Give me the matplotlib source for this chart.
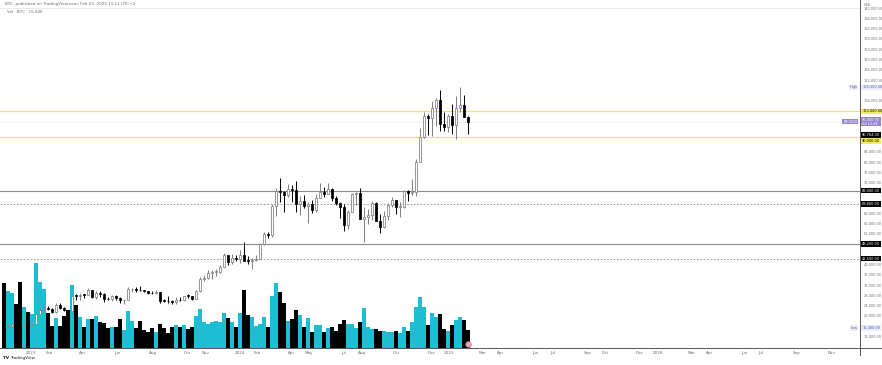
import numpy as np
import pandas as pd
import matplotlib
matplotlib.use('Agg')
import matplotlib.pyplot as plt
import matplotlib.transforms as mtransforms

# weekly BTC candles, first week starting Mon 14 Nov 2022
start = pd.Timestamp('2022-11-14')

opens = [16330, 16280, 16430, 17110, 17090, 16780, 16840, 16540, 17130, 20880,
         22700, 23070, 22950, 21780, 24630, 23490, 22350, 22130, 27980, 27950,
         28450, 28330, 30310, 27590, 29240, 28880, 26920, 26750, 28080, 27120,
         26330, 26340, 30530, 30590, 30290, 30230, 30080, 29280, 29050, 29400,
         26100, 26010, 25840, 25830, 26530, 26250, 27970, 27950, 26860, 29900,
         34500, 35030, 37060, 37380, 37450, 39450, 43790, 41360, 42990, 42280,
         43950, 41730, 41580, 42030, 42580, 48300, 52140, 51730, 63130, 68960,
         68390, 67210, 69650, 69360, 63900, 64940, 63120, 63900, 61480, 66270,
         68500, 67760, 69640, 66200, 64250, 62700, 55850, 60800, 67880, 68250,
         58100, 58700, 59450, 64200, 57300, 54850, 59100, 63600, 65600, 62800,
         62850, 69000, 68000, 68700, 80400, 89800, 98000, 97500, 101200, 104300,
         95200, 93700, 98300, 94500, 101300, 102600, 97700]
highs = [17190, 16810, 17420, 17420, 18390, 16960, 16970, 17400, 21450, 23370,
         23800, 24250, 23200, 25250, 25130, 23880, 22600, 28400, 28900, 29200,
         28800, 31000, 30500, 30000, 29800, 29000, 27650, 28300, 28430, 27400,
         26800, 31400, 31280, 31500, 31800, 30400, 30100, 29800, 30250, 29700,
         26800, 28150, 26400, 27450, 27450, 28000, 28600, 28000, 30380, 35200,
         35980, 37980, 37930, 38400, 39950, 44700, 43900, 44400, 43900, 45900,
         49000, 43580, 42800, 43880, 48550, 52800, 52900, 64000, 70000, 73800,
         68900, 71700, 71300, 72800, 66900, 67200, 64700, 65500, 67700, 71950,
         70600, 71900, 70200, 66900, 64500, 63800, 61400, 68300, 68500, 70000,
         62700, 61800, 65000, 64500, 59800, 61000, 64100, 66500, 65600, 64500,
         69500, 69500, 73600, 81500, 93450, 99600, 98900, 104000, 105200, 108350,
         99900, 98900, 102700, 106000, 109350, 106400, 98000]
lows = [16240, 15480, 16000, 16870, 16530, 16400, 16350, 16540, 17130, 20400,
        22350, 22500, 21400, 21350, 22750, 21980, 19550, 21900, 26600, 26500,
        27200, 28200, 27100, 26950, 27700, 25800, 26450, 25880, 26600, 25350,
        24800, 26250, 29500, 29700, 29950, 29550, 28900, 28600, 28750, 25200,
        25800, 25350, 24900, 24950, 26000, 25990, 27200, 26550, 26830, 29700,
        33900, 34500, 34800, 35700, 36900, 39300, 40200, 40550, 41550, 40750,
        41500, 40300, 38500, 41800, 42260, 47700, 50600, 50900, 59000, 64500,
        60800, 66500, 64500, 60700, 59600, 62400, 56550, 60200, 60800, 66100,
        66600, 67600, 65050, 63400, 58400, 53500, 54300, 60600, 63500, 58000,
        49000, 56100, 57800, 57200, 52500, 54600, 57500, 62700, 59800, 58900,
        62100, 65100, 67500, 66800, 80200, 89400, 90800, 90500, 94200, 92200,
        92500, 91800, 91200, 89300, 99600, 97800, 91200]
closes = [16280, 16430, 17110, 17090, 16780, 16840, 16540, 17130, 20880, 22700,
          23070, 22950, 21780, 24630, 23490, 22350, 22130, 27980, 27950, 28450,
          28330, 30310, 27590, 29240, 28880, 26920, 26750, 28080, 27120, 26330,
          26340, 30530, 30590, 30290, 30230, 30080, 29280, 29050, 29400, 26100,
          26010, 25840, 25830, 26530, 26250, 27970, 27950, 26860, 29900, 34500,
          35030, 37060, 37380, 37450, 39450, 43790, 41360, 42990, 42280, 43950,
          41730, 41580, 42030, 42580, 48300, 52140, 51730, 63130, 68960, 68390,
          67210, 69650, 69360, 63900, 64940, 63120, 63900, 61480, 66270, 68500,
          67760, 69640, 66200, 64250, 62700, 55850, 60800, 67880, 68250, 58100,
          58700, 59450, 64200, 57300, 54850, 59100, 63600, 65600, 62800, 62850,
          69000, 68000, 68700, 80400, 89800, 98000, 97500, 101200, 104300, 95200,
          93700, 98300, 94500, 101300, 102600, 97700, 95900]
# volume in thousands of BTC
volumes = [55.7, 48.9, 47.2, 37.7, 56.6, 35.2, 30.9, 29.2, 72.9, 56.6,
           50.6, 30.0, 18.9, 25.7, 18.9, 27.4, 32.6, 54.0, 36.9, 26.6,
           18.0, 24.9, 24.9, 27.4, 22.3, 21.4, 17.2, 18.0, 18.0, 24.9,
           15.4, 31.7, 23.2, 17.2, 23.2, 15.4, 13.7, 17.2, 13.7, 20.6,
           17.2, 12.9, 18.0, 19.7, 18.0, 19.7, 16.3, 18.0, 27.4, 33.4,
           22.0, 21.0, 22.0, 23.0, 22.0, 30.0, 26.0, 22.0, 18.0, 30.0,
           50.0, 28.0, 27.0, 19.0, 21.0, 27.0, 18.0, 45.0, 56.0, 48.0,
           39.0, 23.0, 25.0, 33.0, 28.0, 18.0, 26.0, 14.0, 20.0, 20.0,
           14.0, 17.0, 18.0, 15.0, 21.0, 24.0, 21.0, 21.0, 17.0, 22.0,
           34.0, 18.0, 16.0, 16.0, 15.0, 15.0, 14.0, 14.0, 15.0, 13.0,
           18.0, 15.0, 22.0, 35.0, 44.0, 35.0, 20.0, 30.0, 27.0, 29.0,
           16.0, 15.0, 20.0, 24.0, 27.0, 24.0, 15.44]

# horizontal levels drawn on the chart
yellow_levels = [100000, 90000]
gray_solid = [69000, 48200]
gray_dashed = [63800, 42500]
last_price = 95900

month_dates = ['2023-01-01', '2023-02-01', '2023-04-01', '2023-06-01', '2023-08-01',
               '2023-10-01', '2023-11-01', '2024-01-01', '2024-02-01', '2024-04-01',
               '2024-05-01', '2024-07-01', '2024-08-01', '2024-10-01', '2024-12-01',
               '2025-01-01', '2025-03-01', '2025-04-01', '2025-06-01', '2025-07-01',
               '2025-09-01', '2025-10-01', '2025-12-01', '2026-01-01', '2026-03-01',
               '2026-04-01', '2026-06-01', '2026-07-01', '2026-09-01', '2026-11-01']
month_labels = ['2023', 'Feb', 'Apr', 'Jun', 'Aug', 'Oct', 'Nov', '2024', 'Feb', 'Apr',
                'May', 'Jul', 'Aug', 'Oct', 'Dec', '2025', 'Mar', 'Apr', 'Jun', 'Jul',
                'Sep', 'Oct', 'Dec', '2026', 'Mar', 'Apr', 'Jun', 'Jul', 'Sep', 'Nov']

up_col = '#1dbdd3'
txt_col = '#6a6d78'
fs = 3.0
fs_axis = 2.5

o = np.array(opens); h = np.array(highs); l = np.array(lows); c = np.array(closes)
x = np.arange(len(c))
up = c >= o

W, H = 882, 365
fig = plt.figure(figsize=(W / 100, H / 100), dpi=100)
ax = fig.add_axes([0, 17 / H, 860 / W, 340 / H])
axv = ax.twinx()
ax.set_zorder(axv.get_zorder() + 1)
ax.patch.set_visible(False)

# volume
axv.bar(x, volumes, width=0.85, color=np.where(up, up_col, '#000000'), linewidth=0)
axv.set_ylim(0, 291.6)
axv.set_yticks([])
for s in axv.spines.values():
    s.set_visible(False)

# levels
for lv in yellow_levels:
    ax.axhline(lv, color='#efe26a', lw=0.9, zorder=1)
for lv in gray_solid:
    ax.axhline(lv, color='#8a8a8a', lw=0.8, zorder=1)
for lv in gray_dashed:
    ax.axhline(lv, color='#8a8a8a', lw=0.6, ls=(0, (2, 2)), zorder=1)
ax.axhline(last_price, color='#c8c8c8', lw=0.5, ls=(0, (1, 2)), zorder=1)

# candles
wick_cols = np.where(up, '#808080', '#000000')
ax.vlines(x, l, h, colors=wick_cols, lw=0.7, zorder=3)
body_lo = np.minimum(o, c)
body_h = np.maximum(np.abs(c - o), 250)
ax.bar(x, body_h, bottom=body_lo, width=0.72,
       color=np.where(up, '#ffffff', '#000000'),
       edgecolor=np.where(up, '#7d7d7d', '#000000'), linewidth=0.55, zorder=4)

ax.set_xlim(-1, 214)
ax.set_ylim(7710, 140270)

# time axis
tick_pos = [(pd.Timestamp(d) - start).days / 7 for d in month_dates]
ax.set_xticks(tick_pos)
ax.set_xticklabels(month_labels, fontsize=fs, color=txt_col)
ax.tick_params(axis='x', length=0, pad=2)
ax.set_yticks([])

ax.spines['left'].set_visible(False)
ax.spines['top'].set_color('#e2e2e2')
ax.spines['top'].set_linewidth(0.5)
ax.spines['right'].set_color('#5a5a5a')
ax.spines['right'].set_linewidth(0.7)
ax.spines['bottom'].set_color('#5a5a5a')
ax.spines['bottom'].set_linewidth(0.7)
fig.add_artist(plt.Line2D([0, 1], [17 / H, 17 / H], color='#5a5a5a', lw=0.7))
fig.add_artist(plt.Line2D([860 / W, 860 / W], [10 / H, 1], color='#5a5a5a', lw=0.7))

# price scale labels
trans = mtransforms.blended_transform_factory(ax.transAxes, ax.transData)
px_per_usd = 340 / (140270 - 7710)


def tag(price, text, bg, fg, dy=0, side='right'):
    if side == 'right':
        xx, ha = 1.0025, 'left'
    else:
        xx, ha = 0.997, 'right'
    ax.annotate(text, xy=(xx, price), xycoords=trans, xytext=(0, dy),
                textcoords='offset points', ha=ha, va='center', fontsize=fs_axis,
                color=fg, annotation_clip=False, zorder=10, linespacing=1.0,
                bbox=dict(boxstyle='square,pad=0.2', fc=bg, ec='none'))


overlay_y = [100000, last_price, 90800, 90000 - 3000, 69000, 63800, 48200, 42500,
             109350, 15480]
for p in range(12000, 140001, 4000):
    if min(abs(p - q) for q in overlay_y) * px_per_usd < 4:
        continue
    ax.text(1.004, p, f'{p:,.2f}', transform=trans, fontsize=fs_axis, color=txt_col,
            ha='left', va='center', clip_on=False)

tag(100000, '100,000.00', '#f3e86a', '#000000')
tag(last_price, '95,900.00\n6d 12:48', '#9784d4', '#ffffff')
tag(last_price, 'BTCUSD', '#9784d4', '#ffffff', side='left')
tag(90800, '90,764.00', '#000000', '#ffffff')
tag(90000, '90,000.00', '#f3e86a', '#000000', dy=-3)
for lv in gray_solid + gray_dashed:
    tag(lv, f'{lv:,.2f}', '#000000', '#ffffff')
tag(max(highs), f'{max(highs):,.2f}', '#e9edf5', '#4a5cbb')
tag(max(highs), 'High', '#e9edf5', '#4a5cbb', side='left')
tag(min(lows), f'{min(lows):,.2f}', '#e9edf5', '#4a5cbb')
tag(min(lows), 'Low', '#e9edf5', '#4a5cbb', side='left')

# event marker under last bar
ax.plot([x[-1]], [0.012], transform=mtransforms.blended_transform_factory(ax.transData, ax.transAxes),
        marker='o', ms=4, mfc='#e7a9bf', mec='#b86b8f', mew=0.5, clip_on=False, zorder=11)

# header / footer
fig.text(864 / W, 1 - 5 / H, 'USD', fontsize=fs_axis, color=txt_col, va='center')
fig.text(5 / W, 1 - 4 / H, 'BTC, published on TradingView.com, Feb 03, 2025 11:11 UTC+2',
         fontsize=fs, color=txt_col, va='center')
fig.text(7 / W, 1 - 12 / H, 'Vol \u00b7 BTC   15.44K', fontsize=fs, color=txt_col, va='center')
fig.text(3 / W, 1 - 358 / H, 'TV', fontsize=fs, color='#131722', weight='bold', va='center')
fig.text(10 / W, 1 - 358 / H, 'TradingView', fontsize=fs, color='#131722', va='center')

fig.savefig('out.png', dpi=100)
